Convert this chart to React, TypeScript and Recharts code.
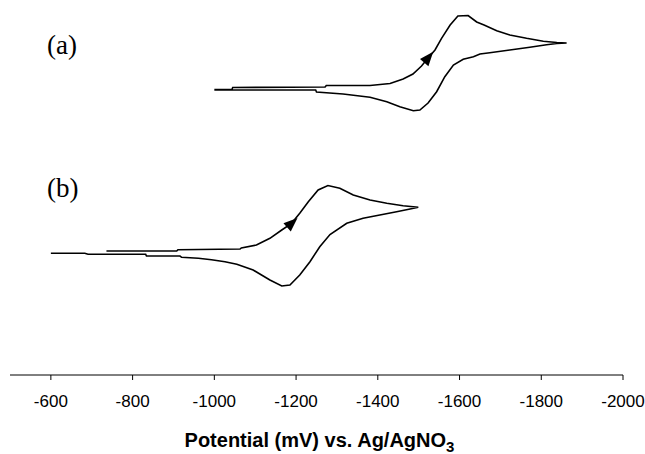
import React from 'react';
import { LineChart, Line, XAxis, YAxis, Label, Customized } from 'recharts';

// Potential ticks (mV vs. Ag/AgNO3)
const potentialTicks = [-600, -800, -1000, -1200, -1400, -1600, -1800, -2000];

// Curve (a): forward scan then reverse scan (potential in mV, current in a.u., offset)
const aPotential = [
  -1000, -1043, -1045, -1271, -1274, -1381, -1430, -1462, -1486, -1507, -1523, -1540, -1556, -1577,
  -1596, -1621, -1642, -1660, -1691, -1723, -1764, -1805, -1838, -1862,
  -1838, -1813, -1772, -1723, -1674, -1650, -1634, -1609, -1585, -1564, -1544, -1523, -1503, -1487,
  -1454, -1422, -1381, -1315, -1250, -1248, -1000,
];
const aCurrent = [
  28.55, 28.55, 28.75, 28.8, 28.95, 28.95, 29.15, 29.6, 30.1, 30.9, 31.7, 32.5, 33.67, 35.0,
  35.9, 35.95, 35.3, 35.0, 34.43, 34.0, 33.67, 33.38, 33.25, 33.2,
  33.15, 33.03, 32.77, 32.5, 32.23, 32.1, 31.83, 31.57, 31.0, 29.83, 28.33, 27.2, 26.5, 26.43,
  26.83, 27.33, 27.77, 28.1, 28.3, 28.5, 28.5,
];

// Curve (b)
const bPotential = [
  -736, -908, -911, -1063, -1066, -1103, -1136, -1165, -1189, -1209, -1230, -1254, -1278, -1307,
  -1340, -1381, -1422, -1462, -1499,
  -1479, -1446, -1405, -1364, -1324, -1283, -1258, -1234, -1209, -1185, -1165, -1136, -1095, -1055,
  -1026, -993, -961, -920, -916, -834, -832, -691, -683, -600,
];
const bCurrent = [
  12.4, 12.4, 12.53, 12.6, 12.7, 13.0, 13.67, 14.5, 15.17, 16.17, 17.33, 18.5, 18.95, 18.67,
  18.0, 17.5, 17.17, 16.93, 16.77,
  16.6, 16.33, 16.0, 15.67, 15.17, 14.05, 12.83, 11.33, 10.0, 9.0, 8.9, 9.5, 10.5, 11.07,
  11.33, 11.53, 11.67, 11.77, 11.9, 11.9, 12.07, 12.07, 12.17, 12.17,
];

const curveTags = ['(a)', '(b)'];
const axisTitle = 'Potential (mV) vs. Ag/AgNO';
const axisTitleSub = '3';

// index of the scan-direction arrow on each curve
const aArrowIndex = 10;
const bArrowIndex = 8;

const toRows = (xs: number[], ys: number[]) => xs.map((e, k) => ({ e, i: ys[k] }));
const aData = toRows(aPotential, aCurrent);
const bData = toRows(bPotential, bCurrent);

const makeArrowDot = (arrowAt: number, angle: number) => (props: any) => {
  const { cx, cy, index } = props;
  if (index !== arrowAt || cx == null || cy == null) return <g key={`d-${index}`} />;
  return (
    <polygon
      key={`d-${index}`}
      points="8,0 -6,-5.5 -6,5.5"
      transform={`translate(${cx},${cy}) rotate(${angle})`}
      fill="#000"
      stroke="none"
    />
  );
};

const renderTitle = (p: any) => {
  const vb = p.viewBox || {};
  return (
    <text
      x={vb.x + vb.width / 2 + 3}
      y={vb.y + 72}
      textAnchor="middle"
      fontFamily="'Liberation Sans', Arial, sans-serif"
      fontWeight="bold"
      fontSize={20}
      fill="#000"
    >
      {axisTitle}
      <tspan dy={5} fontSize={15}>{axisTitleSub}</tspan>
    </text>
  );
};

const Tags = () => (
  <g fontFamily="'Liberation Serif', 'Times New Roman', serif" fontSize={27} fill="#000">
    <text x={47} y={54}>{curveTags[0]}</text>
    <text x={47} y={197}>{curveTags[1]}</text>
  </g>
);

export default function App() {
  return (
    <div style={{ position: 'absolute', left: 0, top: 0, width: 645, height: 454, background: '#fff' }}>
      <LineChart width={645} height={454} margin={{ top: 0, right: 22, bottom: 0, left: 10 }}>
        <XAxis
          type="number"
          dataKey="e"
          domain={[-2000, -500]}
          reversed
          ticks={potentialTicks}
          allowDataOverflow
          height={79}
          axisLine={{ stroke: '#000', strokeWidth: 1 }}
          tickLine={{ stroke: '#000', strokeWidth: 1 }}
          tickSize={5}
          tickMargin={15}
          tick={{ fill: '#000', fontSize: 17, fontFamily: "'Liberation Sans', Arial, sans-serif" }}
        >
          <Label content={renderTitle} />
        </XAxis>
        <YAxis type="number" dataKey="i" domain={[0, 37.5]} hide allowDataOverflow />
        <Line
          data={aData}
          dataKey="i"
          type="linear"
          stroke="#000"
          strokeWidth={1.6}
          dot={makeArrowDot(aArrowIndex, -50)}
          activeDot={false}
          isAnimationActive={false}
        />
        <Line
          data={bData}
          dataKey="i"
          type="linear"
          stroke="#000"
          strokeWidth={1.6}
          dot={makeArrowDot(bArrowIndex, -42)}
          activeDot={false}
          isAnimationActive={false}
        />
        <Customized component={Tags} />
      </LineChart>
    </div>
  );
}
